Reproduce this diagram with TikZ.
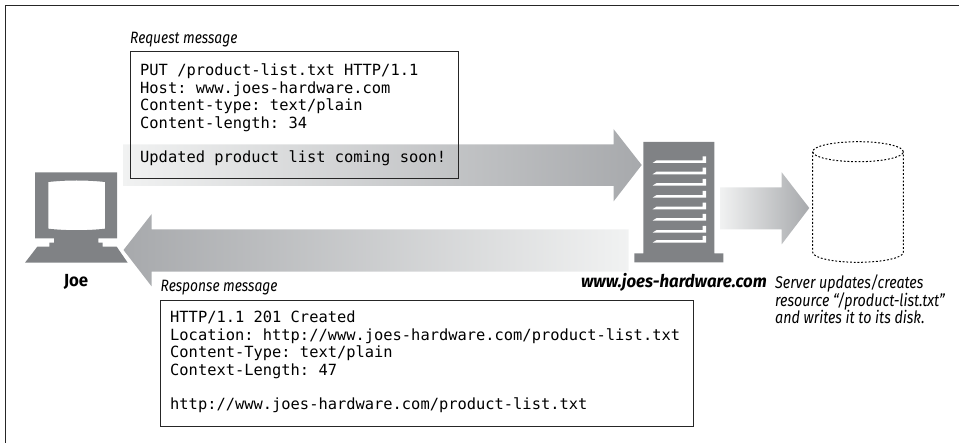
\documentclass[tikz,border=0pt]{standalone}
\usepackage{fontspec}
\setmainfont{Fira Sans}
\setmonofont{DejaVu Sans Mono}
\newfontfamily\captfont[FakeStretch=0.84,ItalicFont={Fira Sans Italic}]{Fira Sans}
\newfontfamily\namefont[FakeStretch=0.96,BoldFont={Fira Sans Bold},BoldItalicFont={Fira Sans Bold Italic}]{Fira Sans}
\definecolor{icon}{HTML}{808285}
\definecolor{arrowdark}{HTML}{A7A9AC}
\definecolor{arrowlight}{HTML}{F1F2F2}
\tikzset{
  framerule/.style={draw=black!85,line width=1.4pt},
  msgbox/.style={draw=black!85,line width=1pt,anchor=north west,inner sep=0pt},
  msgtext/.style={anchor=base west,inner sep=0pt,font=\ttfamily\fontsize{15.4}{17.4}\selectfont},
  capt/.style={anchor=base west,inner sep=0pt,font=\captfont\itshape\fontsize{16.4}{17}\selectfont},
  notetext/.style={anchor=base west,inner sep=0pt,font=\captfont\itshape\fontsize{17}{17}\selectfont},
  boldname/.style={anchor=base,inner sep=0pt,font=\namefont\bfseries\fontsize{17.5}{18}\selectfont},
  bolditname/.style={anchor=base east,inner sep=0pt,font=\namefont\bfseries\itshape\fontsize{17.5}{18}\selectfont},
  iconfill/.style={fill=icon,draw=none},
  blockarrow/.style={draw=none},
  disk/.style={draw=black,line width=1pt,dash pattern=on 1.8pt off 1.9pt}
}
\newcommand{\srvslot}[1]{\fill[white] (652.5,#1) -- (656.5,#1-2.6) -- (702.7,#1-2.6) -- (702.7,#1-6.7) -- (706,#1-6.7) -- (706,#1) -- cycle;}
\begin{document}
\begin{tikzpicture}[x=1pt,y=-1pt]
\useasboundingbox (0,0) rectangle (959,443);
% frame, open at the right and at the bottom
\coordinate (frameBL) at (5.7,443);
\coordinate (frameTL) at (5.7,5.7);
\coordinate (frameTR) at (959,5.7);
\draw[framerule] (frameBL) -- (frameTL) -- (frameTR);
% request arrow
\shade[blockarrow,left color=arrowlight,right color=arrowdark]
  (123,144.5) -- (613.5,144.5) -- (613.5,129) -- (641.7,165) -- (613.5,201.5) -- (613.5,186) -- (123,186) -- cycle;
% response arrow
\shade[blockarrow,left color=arrowdark,right color=arrowlight]
  (628.5,229.5) -- (151.7,229.5) -- (151.7,214) -- (123.5,250) -- (151.7,286.5) -- (151.7,271.7) -- (628.5,271.7) -- cycle;
% store arrow
\shade[blockarrow,left color=arrowlight,right color=arrowdark]
  (720,187.3) -- (781.7,187.3) -- (781.7,172.3) -- (809.3,208) -- (781.7,244.3) -- (781.7,229.3) -- (720,229.3) -- cycle;
% message boxes
\node[msgbox,minimum width=328pt,minimum height=127pt] (reqbox) at (129.5,51.5) {};
\node[msgbox,minimum width=532.7pt,minimum height=126.5pt] (respbox) at (160,300) {};
\node[capt] (reqcap) at (130,44) {Request message};
\node[capt] (respcap) at (160.5,291.7) {Response message};
\node[msgtext] (reqa) at (140,76) {PUT /product-list.txt HTTP/1.1};
\node[msgtext] (reqb) at (140,93.4) {Host: www.joes-hardware.com};
\node[msgtext] (reqc) at (140,110.8) {Content-type: text/plain};
\node[msgtext] (reqd) at (140,128.2) {Content-length: 34};
\node[msgtext] (reqe) at (140,163) {Updated product list coming soon!};
\node[msgtext] (respa) at (170,323) {HTTP/1.1 201 Created};
\node[msgtext] (respb) at (170,340.4) {Location: http://www.joes-hardware.com/product-list.txt};
\node[msgtext] (respc) at (170,357.8) {Content-Type: text/plain};
\node[msgtext] (respd) at (170,375.2) {Context-Length: 47};
\node[msgtext] (respe) at (170,410) {http://www.joes-hardware.com/product-list.txt};
% Joe's computer
\fill[iconfill,even odd rule]
  (35,172.3) -- (117,172.3) -- (117,238.3) -- (98.3,238.3) -- (98.3,242.7) -- (102.7,242.7) -- (102.7,246.7) -- (116.7,246.7) -- (127.7,262.7) -- (25,262.7) -- (37.3,246.7) -- (49.3,246.7) -- (49.3,242.7) -- (54,242.7) -- (54,238.3) -- (35,238.3) -- cycle
  (48.3,182) .. controls (66,180) and (87,180) .. (105,182) -- (105,228.7) .. controls (87,230.7) and (66,230.7) .. (48.3,228.7) -- cycle;
\node[boldname] (joe) at (76,287) {Joe};
% server
\fill[iconfill] (643.3,142) -- (714.3,142) -- (714.3,253.3) -- (723.3,253.3) -- (723.3,262.3) -- (634.3,262.3) -- (634.3,253.3) -- (643.3,253.3) -- cycle;
\srvslot{163}\srvslot{174.3}\srvslot{185.7}\srvslot{197.7}\srvslot{209.3}\srvslot{220.7}\srvslot{232.7}\srvslot{242.7}
\node[bolditname] (srvname) at (767,288) {www.joes-hardware.com};
% disk
\draw[disk] (858,151.7) ellipse [x radius=45.3pt,y radius=10pt];
\draw[disk] (812.7,151.7) -- (812.7,252.3) arc [start angle=180,end angle=360,x radius=45.3pt,y radius=10pt] -- (903.3,151.7);
\node[notetext] (notea) at (775,289) {Server updates/creates};
\node[notetext] (noteb) at (775,306.5) {resource “/product-list.txt”};
\node[notetext] (notec) at (775,324) {and writes it to its disk.};
\end{tikzpicture}
\end{document}
